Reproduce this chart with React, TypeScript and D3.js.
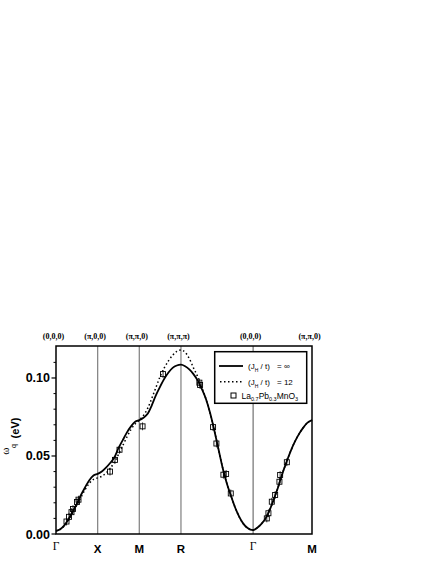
import React from 'react';
import * as d3 from 'd3';

// high symmetry points along the path (path length in units of pi)
const symLabels = ['Γ', 'X', 'M', 'R', 'Γ', 'M'];
const symCoords = ['(0,0,0)', '(π,0,0)', '(π,π,0)', '(π,π,π)', '(0,0,0)', '(π,π,0)'];
const symPos = [0, 1, 2, 3, 4.732, 6.146];

const yMajor = [0, 0.05, 0.1];
const yMinor = [0.01, 0.02, 0.03, 0.04, 0.06, 0.07, 0.08, 0.09, 0.11];

// (J_H / t) = infinity
const curveInf: [number, number][] = [
  [0, 0.002], [0.1, 0.003], [0.2, 0.0055], [0.3, 0.0095], [0.4, 0.0145], [0.5, 0.0195],
  [0.6, 0.025], [0.7, 0.03], [0.8, 0.0345], [0.9, 0.0375], [1.0, 0.0385], [1.1, 0.04],
  [1.2, 0.0425], [1.3, 0.0455], [1.4, 0.049], [1.5, 0.055], [1.6, 0.06], [1.7, 0.065],
  [1.8, 0.069], [1.9, 0.072], [2.0, 0.073], [2.1, 0.0745], [2.2, 0.077], [2.3, 0.0825],
  [2.4, 0.089], [2.5, 0.0945], [2.6, 0.0995], [2.7, 0.1035], [2.8, 0.1065], [2.9, 0.108],
  [3.0, 0.1085], [3.1, 0.1075], [3.2, 0.1055], [3.3, 0.1025], [3.4, 0.0985], [3.5, 0.093],
  [3.6, 0.0865], [3.7, 0.0775], [3.8, 0.0665], [3.9, 0.0545], [4.0, 0.0425], [4.1, 0.0325],
  [4.2, 0.0245], [4.3, 0.017], [4.4, 0.011], [4.5, 0.0065], [4.6, 0.0038], [4.732, 0.0025],
  [4.832, 0.004], [4.932, 0.0065], [5.032, 0.01], [5.132, 0.0155], [5.232, 0.0225],
  [5.332, 0.03], [5.432, 0.0385], [5.532, 0.046], [5.632, 0.053], [5.732, 0.059],
  [5.832, 0.064], [5.932, 0.068], [6.032, 0.0712], [6.146, 0.073],
];

// (J_H / t) = 12
const curve12: [number, number][] = [
  [0, 0.002], [0.1, 0.003], [0.2, 0.0052], [0.3, 0.009], [0.4, 0.0135], [0.5, 0.0185],
  [0.6, 0.0235], [0.7, 0.0285], [0.8, 0.0325], [0.9, 0.035], [1.0, 0.036], [1.1, 0.037],
  [1.2, 0.039], [1.3, 0.042], [1.4, 0.046], [1.5, 0.051], [1.6, 0.0565], [1.7, 0.062],
  [1.8, 0.067], [1.9, 0.0705], [2.0, 0.073], [2.1, 0.076], [2.2, 0.0805], [2.3, 0.087],
  [2.4, 0.094], [2.5, 0.101], [2.6, 0.1065], [2.7, 0.111], [2.8, 0.1145], [2.9, 0.117],
  [3.0, 0.118], [3.1, 0.1165], [3.2, 0.1125], [3.3, 0.1065], [3.4, 0.101], [3.5, 0.094],
  [3.6, 0.0865], [3.7, 0.0775], [3.8, 0.0665], [3.9, 0.0545], [4.0, 0.0425], [4.1, 0.0325],
  [4.2, 0.0245], [4.3, 0.017], [4.4, 0.011], [4.5, 0.0065], [4.6, 0.0038], [4.732, 0.0025],
  [4.832, 0.004], [4.932, 0.0065], [5.032, 0.01], [5.132, 0.0155], [5.232, 0.0225],
  [5.332, 0.03], [5.432, 0.0385], [5.532, 0.046], [5.632, 0.053], [5.732, 0.059],
  [5.832, 0.064], [5.932, 0.068], [6.032, 0.0712], [6.146, 0.073],
];

// La0.7Pb0.3MnO3 data
const expData: [number, number][] = [
  [0.252, 0.008], [0.312, 0.011], [0.372, 0.014], [0.408, 0.016], [0.504, 0.0205], [0.54, 0.022],
  [1.297, 0.04], [1.417, 0.0475], [1.525, 0.054], [2.078, 0.069], [2.57, 0.1025],
  [3.442, 0.097], [3.459, 0.0955], [3.771, 0.0685], [3.851, 0.058], [4.019, 0.038],
  [4.084, 0.0385], [4.196, 0.026], [5.061, 0.01], [5.1, 0.0133], [5.181, 0.0207],
  [5.261, 0.025], [5.364, 0.0335], [5.381, 0.0378], [5.542, 0.046],
];
const expErr = 0.0025;

const left = 56, right = 312, top = 346, bottom = 534;

export default function App() {
  const x = d3.scaleLinear().domain([0, 6.146]).range([left, right]);
  const y = d3.scaleLinear().domain([0, 0.1205]).range([bottom, top]);
  const line = d3.line<[number, number]>()
    .x((d) => x(d[0]))
    .y((d) => y(d[1]))
    .curve(d3.curveMonotoneX);
  const fmt = d3.format('.2f');
  const sans = 'Liberation Sans, Arial, sans-serif';
  const serif = 'Liberation Serif, Times New Roman, serif';

  return (
    <svg width={436} height={564} style={{ position: 'absolute', left: 0, top: 0, background: '#fff' }}>
      {/* vertical lines at symmetry points */}
      {symPos.slice(1, 5).map((p, i) => (
        <line key={i} x1={x(p)} x2={x(p)} y1={top} y2={bottom}
          stroke={i === 3 ? '#555' : '#888'} strokeWidth={i === 3 ? 1 : 1.3} />
      ))}

      {/* curves */}
      <path d={line(curve12) || ''} fill="none" stroke="#000" strokeWidth={1.5} strokeDasharray="1.5,2.5" />
      <path d={line(curveInf) || ''} fill="none" stroke="#000" strokeWidth={1.8} />

      {/* experimental points */}
      {expData.map((d, i) => (
        <g key={i}>
          <line x1={x(d[0])} x2={x(d[0])} y1={y(d[1] - expErr)} y2={y(d[1] + expErr)} stroke="#000" strokeWidth={0.8} />
          <rect x={x(d[0]) - 2.5} y={y(d[1]) - 2.5} width={5} height={5} fill="none" stroke="#000" strokeWidth={0.9} />
        </g>
      ))}

      {/* frame */}
      <rect x={left} y={top} width={right - left} height={bottom - top} fill="none" stroke="#000" strokeWidth={1.5} />

      {/* y axis ticks */}
      {yMinor.map((v) => (
        <line key={'m' + v} x1={left - 2.5} x2={left} y1={y(v)} y2={y(v)} stroke="#000" strokeWidth={1} />
      ))}
      {yMajor.map((v) => (
        <g key={'M' + v}>
          <line x1={left - 4.5} x2={left} y1={y(v)} y2={y(v)} stroke="#000" strokeWidth={1.2} />
          <text x={left - 6} y={y(v)} dy="0.36em" textAnchor="end" fontFamily={sans}
            fontWeight="bold" fontSize={12.5}>{fmt(v)}</text>
        </g>
      ))}

      {/* y axis title */}
      <text transform="translate(9,451) rotate(-90)" textAnchor="middle" fontFamily={serif} fontSize={11}>ω</text>
      <text transform="translate(16,446) rotate(-90)" textAnchor="middle" fontFamily={sans} fontSize={7}>q</text>
      <text transform="translate(19,428) rotate(-90)" textAnchor="middle" fontFamily={sans}
        fontWeight="bold" fontSize={11}>(eV)</text>

      {/* top coordinate labels */}
      {symCoords.map((c, i) => (
        <text key={'c' + i} x={x(symPos[i]) - 2.5} y={339} textAnchor="middle" fontFamily={serif}
          fontWeight="bold" fontSize={8}>{c}</text>
      ))}

      {/* bottom symmetry labels */}
      {symLabels.map((s, i) => (
        s === 'Γ'
          ? <text key={'s' + i} x={x(symPos[i])} y={550} textAnchor="middle" fontFamily={serif} fontSize={11.5}>{s}</text>
          : <text key={'s' + i} x={x(symPos[i])} y={553} textAnchor="middle" fontFamily={sans} fontWeight="bold" fontSize={11.5}>{s}</text>
      ))}

      {/* legend */}
      <rect x={214.7} y={351.7} width={92} height={51.6} fill="#fff" stroke="#000" strokeWidth={1.5} />
      <line x1={219} x2={243} y1={366} y2={366} stroke="#000" strokeWidth={1.8} />
      <text x={248} y={369} fontFamily={sans} fontSize={8}>
        (J<tspan fontSize={5} dy={2.5}>H</tspan><tspan dy={-2.5}> / t)</tspan><tspan x={277}>= ∞</tspan>
      </text>
      <line x1={220} x2={243} y1={381.7} y2={381.7} stroke="#000" strokeWidth={1.5} strokeDasharray="1.5,2.5" />
      <text x={248} y={385} fontFamily={sans} fontSize={8}>
        (J<tspan fontSize={5} dy={2.5}>H</tspan><tspan dy={-2.5}> / t)</tspan><tspan x={277}>= 12</tspan>
      </text>
      <rect x={231} y={393} width={5} height={5} fill="none" stroke="#000" strokeWidth={1} />
      <text x={241.5} y={398.5} fontFamily={sans} fontSize={8.5}>
        La<tspan fontSize={5.5} dy={2}>0.7</tspan><tspan dy={-2}>Pb</tspan><tspan fontSize={5.5} dy={2}>0.3</tspan><tspan dy={-2}>MnO</tspan><tspan fontSize={5.5} dy={2}>3</tspan>
      </text>
    </svg>
  );
}
